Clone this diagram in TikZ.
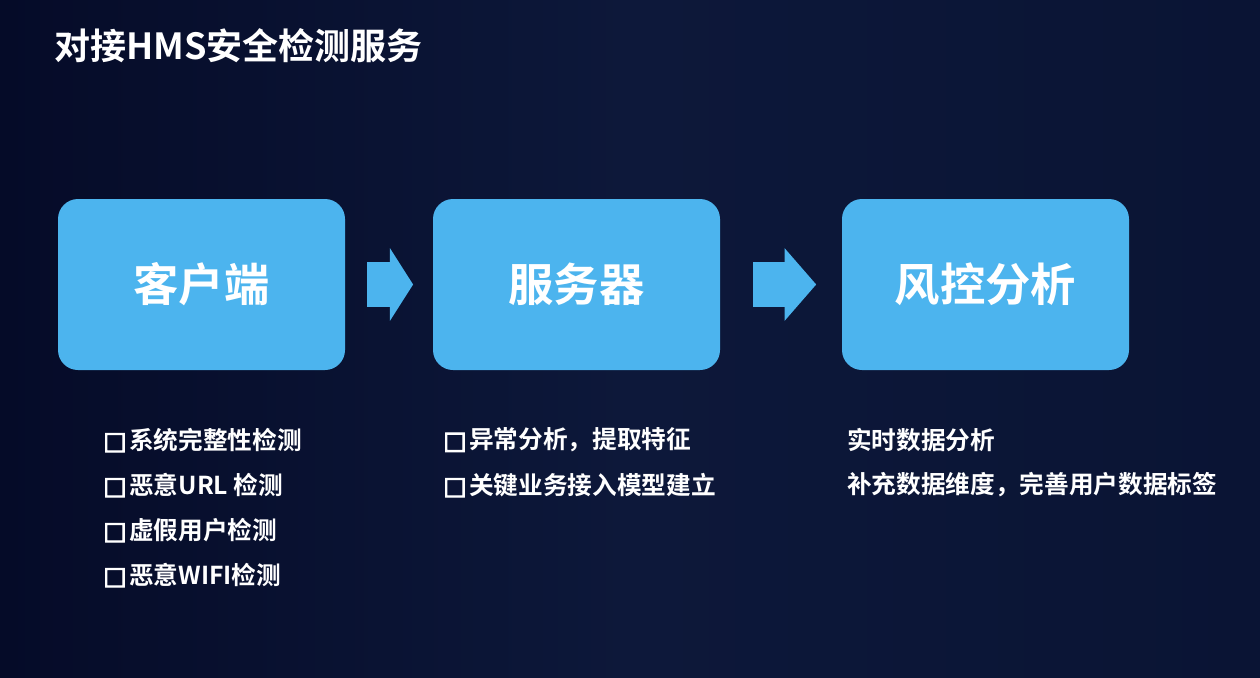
\documentclass[tikz,border=0pt]{standalone}
\usepackage{fontspec}
\setmainfont{Noto Sans CJK SC}[BoldFont={Noto Sans CJK SC Bold}]
\newfontfamily\bulletfont{DejaVu Sans}[FakeBold=4]
\newcommand{\itembox}{{\bulletfont □}\hspace{2pt}}
\usetikzlibrary{shapes.arrows,calc}
\begin{document}
\begin{tikzpicture}[x=0.75pt,y=-0.75pt,
    stagebox/.style={fill=boxblue,rounded corners=15pt,minimum width=215.25pt,minimum height=128.25pt,
      text=white,font=\bfseries\fontsize{34pt}{40pt}\selectfont},
    itemtext/.style={anchor=west,inner sep=0pt,text=white,font=\bfseries\fontsize{18.5pt}{22pt}\selectfont},
    flowarrow/.style={single arrow,fill=boxblue,inner xsep=0pt,inner ysep=16.5pt,
      single arrow head extend=10.5pt,minimum width=54pt,xshift=-4.5pt}]
            % Define colors
            \definecolor{boxblue}{RGB}{76,180,238}
            \definecolor{bgleft}{RGB}{5,11,40}
            \definecolor{bgmid}{RGB}{13,24,58}
            \definecolor{bgright}{RGB}{10,20,52}

            % Background
            \useasboundingbox (0,0) rectangle (1260,678);
            \shade[left color=bgleft,right color=bgright,middle color=bgmid] (0,0) rectangle (1260,678);
            \node[anchor=west,inner sep=0pt,text=white,font=\bfseries\fontsize{27pt}{31pt}\selectfont] (title) at (54,46) {对接HMS安全检测服务};

            % Draw the three stages
            \node[stagebox] (client) at (201.5,284.5) {客户端};
            \node[stagebox] (server) at (576.5,284.5) {服务器};
            \node[stagebox] (risk) at (985.5,284.5) {风控分析};

            % Arrows between the stages
            \node[flowarrow,minimum height=34.5pt,single arrow tip angle=115] (arrowA) at ($(client.east)!0.5!(server.west)$) {};
            \node[flowarrow,minimum height=47.25pt,single arrow tip angle=98] (arrowB) at ($(server.east)!0.5!(risk.west)$) {};

            % Client checks
            \node[itemtext] (clientA) at (103,440) {\itembox 系统完整性检测};
            \node[itemtext] (clientB) at (103,485) {\itembox 恶意URL 检测};
            \node[itemtext] (clientC) at (103,530) {\itembox 虚假用户检测};
            \node[itemtext] (clientD) at (103,575) {\itembox 恶意WIFI检测};

            % Server tasks
            \node[itemtext] (serverA) at (443,440) {\itembox 异常分析，提取特征};
            \node[itemtext] (serverB) at (443,485) {\itembox 关键业务接入模型建立};

            % Risk analysis
            \node[itemtext] (riskA) at (847,440) {实时数据分析};
            \node[itemtext] (riskB) at (847,485) {补充数据维度，完善用户数据标签};
        \end{tikzpicture}
\end{document}
